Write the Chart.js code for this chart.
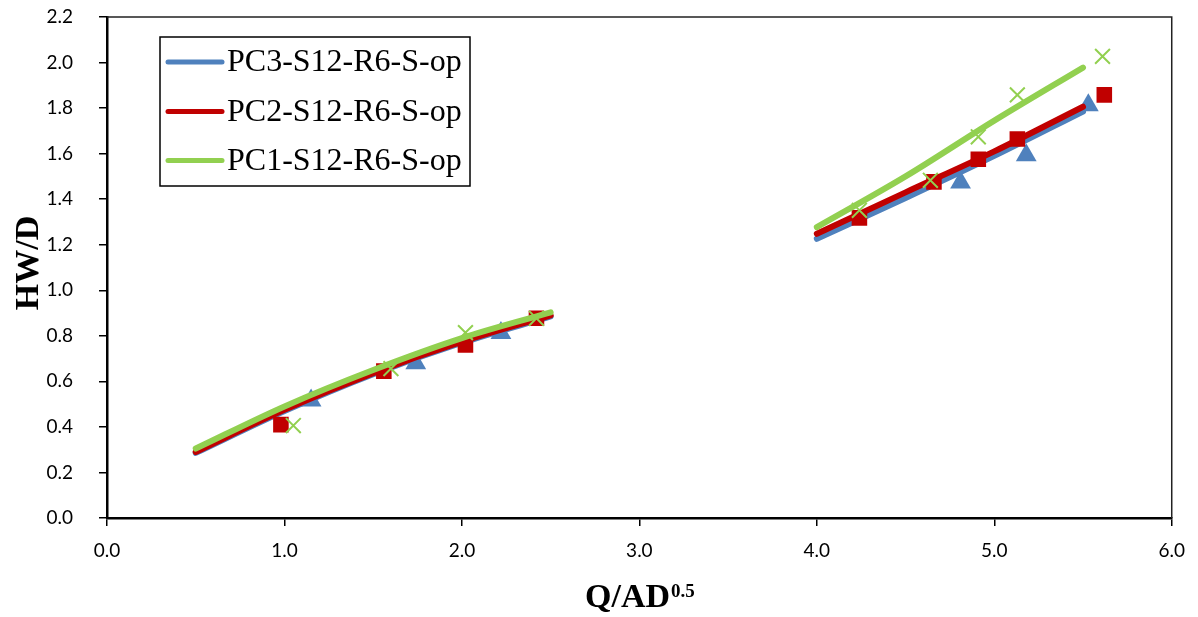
<!DOCTYPE html>
<html>
<head>
<meta charset="utf-8">
<title>HW/D vs Q/AD^0.5</title>
<script src="https://cdn.jsdelivr.net/npm/chart.js@4.4.1/dist/chart.umd.min.js"></script>
<style>
  body { margin: 0; background: #fff; }
  #wrap { width: 1198px; height: 617px; }
</style>
</head>
<body>
<div id="wrap"><canvas id="myChart" width="1198" height="617"></canvas></div>
<script>
// series labels
const seriesLabels = ['PC3-S12-R6-S-op', 'PC2-S12-R6-S-op', 'PC1-S12-R6-S-op'];
const seriesColors = ['#4F81BD', '#C00000', '#92D050'];

// measured points (markers)
const pc3X = [1.15, 1.74, 2.22, 4.81, 5.18, 5.53];
const pc3Y = [0.516, 0.68, 0.812, 1.473, 1.593, 1.812];
const pc2X = [0.98, 1.56, 2.02, 2.42, 4.24, 4.66, 4.91, 5.13, 5.62];
const pc2Y = [0.41, 0.645, 0.76, 0.877, 1.318, 1.476, 1.575, 1.664, 1.858];
const pc1X = [1.05, 1.60, 2.02, 2.42, 4.24, 4.64, 4.91, 5.13, 5.61];
const pc1Y = [0.406, 0.656, 0.814, 0.877, 1.351, 1.483, 1.674, 1.858, 2.027];

// fitted curves
const lowFitX = [0.5, 1.0, 1.5, 2.0, 2.5];
const pc3LowFit = [0.286, 0.47, 0.632, 0.77, 0.885];
const pc2LowFit = [0.29, 0.475, 0.636, 0.774, 0.89];
const pc1LowFit = [0.305, 0.49, 0.65, 0.79, 0.903];
const highFitX = [4.0, 4.5, 5.0, 5.5];
const pc3HighFit = [1.226, 1.405, 1.59, 1.785];
const pc2HighFit = [1.248, 1.43, 1.61, 1.806];
const pc1HighFit = [1.277, 1.50, 1.745, 1.978];

// axes
const xTicks = [0, 1, 2, 3, 4, 5, 6];
const yTicks = [0, 0.2, 0.4, 0.6, 0.8, 1.0, 1.2, 1.4, 1.6, 1.8, 2.0, 2.2];

function toPoints(xs, ys) {
    return xs.map((x, i) => ({ x: x, y: ys[i] }));
}
function fitPoints(lowY, highY) {
    // null point in between so the two pieces are not joined
    return toPoints(lowFitX, lowY).concat([{ x: 3.2, y: null }], toPoints(highFitX, highY));
}

function lineSet(label, color, data) {
    return {
        label: label,
        data: data,
        showLine: true,
        spanGaps: false,
        borderColor: color,
        backgroundColor: color,
        borderWidth: 6,
        borderCapStyle: 'round',
        cubicInterpolationMode: 'monotone',
        pointRadius: 0,
        pointHoverRadius: 0
    };
}
function markerSet(label, color, data, style, radius, width) {
    return {
        label: label,
        data: data,
        showLine: false,
        pointStyle: style,
        pointRadius: radius,
        pointHoverRadius: radius,
        pointBorderWidth: width,
        borderColor: color,
        backgroundColor: color,
        pointBackgroundColor: color,
        pointBorderColor: color
    };
}

// first dataset is drawn on top
const datasets = [
    markerSet('PC1 data', seriesColors[2], toPoints(pc1X, pc1Y), 'crossRot', 10.5, 2),
    lineSet(seriesLabels[2], seriesColors[2], fitPoints(pc1LowFit, pc1HighFit)),
    markerSet('PC2 data', seriesColors[1], toPoints(pc2X, pc2Y), 'rect', 11, 0),
    lineSet(seriesLabels[1], seriesColors[1], fitPoints(pc2LowFit, pc2HighFit)),
    lineSet(seriesLabels[0], seriesColors[0], fitPoints(pc3LowFit, pc3HighFit)),
    markerSet('PC3 data', seriesColors[0], toPoints(pc3X, pc3Y), 'triangle', 12, 0)
];

const extras = {
    id: 'extras',
    afterDraw(chart) {
        const ctx = chart.ctx;
        const a = chart.chartArea;
        ctx.save();

        // plot area border (top and right)
        ctx.strokeStyle = '#222';
        ctx.lineWidth = 1.5;
        ctx.beginPath();
        ctx.moveTo(a.left, a.top);
        ctx.lineTo(a.right, a.top);
        ctx.lineTo(a.right, a.bottom);
        ctx.stroke();

        // y axis title
        ctx.fillStyle = '#000';
        ctx.font = 'bold 34px "Liberation Serif", "Times New Roman", serif';
        ctx.textAlign = 'center';
        ctx.textBaseline = 'middle';
        ctx.translate(29, 263);
        ctx.rotate(-Math.PI / 2);
        ctx.fillText('HW/D', 0, 0);
        ctx.setTransform(1, 0, 0, 1, 0, 0);

        // x axis title with superscript
        const main = 'Q/AD';
        const sup = '0.5';
        ctx.textAlign = 'left';
        ctx.textBaseline = 'alphabetic';
        ctx.font = 'bold 34px "Liberation Serif", "Times New Roman", serif';
        const w1 = ctx.measureText(main).width;
        ctx.font = 'bold 19px "Liberation Serif", "Times New Roman", serif';
        const w2 = ctx.measureText(sup).width;
        const cx = (a.left + a.right) / 2;
        const sx = cx - (w1 + w2) / 2;
        ctx.font = 'bold 34px "Liberation Serif", "Times New Roman", serif';
        ctx.fillText(main, sx, 607);
        ctx.font = 'bold 19px "Liberation Serif", "Times New Roman", serif';
        ctx.fillText(sup, sx + w1 + 1, 597);

        // legend box
        ctx.strokeStyle = '#000';
        ctx.lineWidth = 1.5;
        ctx.strokeRect(160, 37, 310, 149);
        const rows = [62, 111.5, 160.5];
        ctx.font = '32px "Liberation Serif", "Times New Roman", serif';
        ctx.textBaseline = 'middle';
        for (let i = 0; i < seriesLabels.length; i++) {
            ctx.strokeStyle = seriesColors[i];
            ctx.lineWidth = 5;
            ctx.lineCap = 'round';
            ctx.beginPath();
            ctx.moveTo(168, rows[i]);
            ctx.lineTo(222, rows[i]);
            ctx.stroke();
            ctx.fillStyle = '#000';
            ctx.fillText(seriesLabels[i], 227, rows[i] + 1);
        }
        ctx.restore();
    }
};

const config = {
    type: 'scatter',
    data: { datasets: datasets },
    options: {
        responsive: false,
        animation: false,
        layout: { padding: { top: 0, right: 26, left: 0, bottom: 0 } },
        plugins: {
            legend: { display: false },
            tooltip: { enabled: false }
        },
        scales: {
            x: {
                type: 'linear',
                min: 0,
                max: 6,
                afterBuildTicks: (scale) => { scale.ticks = xTicks.map((v) => ({ value: v })); },
                afterFit: (scale) => { scale.height = 99; },
                grid: { drawOnChartArea: false, color: '#000', tickLength: 8, lineWidth: 1.5 },
                border: { display: true, color: '#000', width: 2.5 },
                ticks: {
                    color: '#000',
                    padding: 13,
                    maxRotation: 0,
                    font: { family: 'Lato, "Open Sans", sans-serif', size: 19 },
                    callback: (v) => Number(v).toFixed(1)
                }
            },
            y: {
                type: 'linear',
                min: 0,
                max: 2.2,
                afterBuildTicks: (scale) => { scale.ticks = yTicks.map((v) => ({ value: v })); },
                afterFit: (scale) => {
                    scale.width = 107;
                    scale.paddingTop = 17;
                    scale.paddingBottom = 0;
                },
                grid: { drawOnChartArea: false, color: '#000', tickLength: 8, lineWidth: 1.5 },
                border: { display: true, color: '#000', width: 2.5 },
                ticks: {
                    color: '#000',
                    padding: 26,
                    font: { family: 'Lato, "Open Sans", sans-serif', size: 19 },
                    callback: (v) => Number(v).toFixed(1)
                }
            }
        }
    },
    plugins: [extras]
};

new Chart(document.getElementById('myChart'), config);
</script>
</body>
</html>
